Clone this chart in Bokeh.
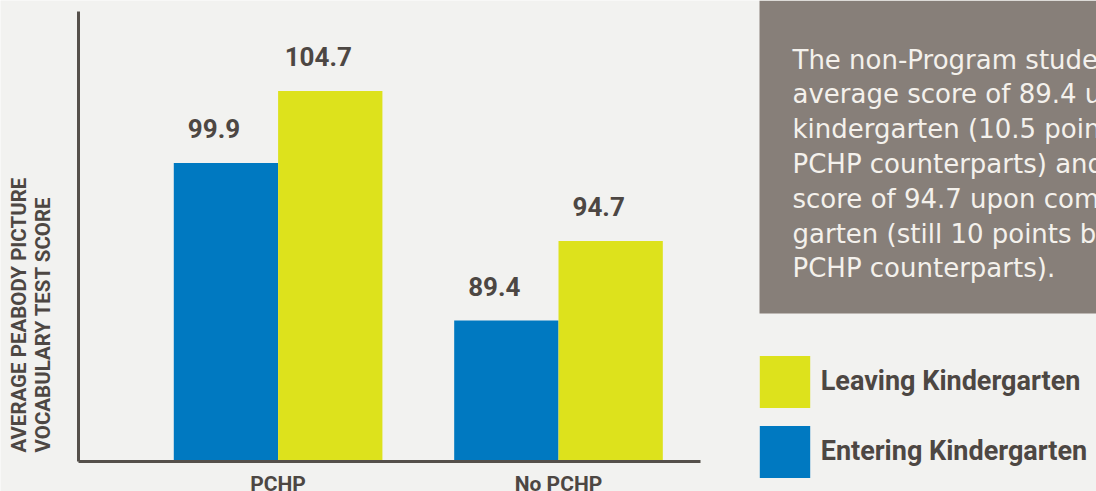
import math
from bokeh.plotting import figure
from bokeh.models import (Range1d, FixedTicker, Label, LabelSet, ColumnDataSource,
                          Legend, LegendItem, BoxAnnotation)
from bokeh.core.properties import value
from bokeh.embed import file_html
from bokeh.resources import INLINE

# ---------------- data ----------------
categories = ["PCHP", "No PCHP"]
entering = [99.9, 89.4]          # Entering Kindergarten (blue)
leaving = [104.7, 94.7]          # Leaving Kindergarten (yellow)
series_names = ["Entering Kindergarten", "Leaving Kindergarten"]
y_title_lines = ["AVERAGE PEABODY PICTURE", "VOCABULARY TEST  SCORE"]
note_lines = [
    "The non-Program students had an",
    "average score of 89.4 upon entering",
    "kindergarten (10.5 points below their",
    "PCHP counterparts) and an average",
    "score of 94.7 upon completing kinder-",
    "garten (still 10 points below their",
    "PCHP counterparts).",
]

# ---------------- style / layout ----------------
BG = "#f2f2f0"
BLUE = "#0079c1"
YELLOW = "#dde21c"
TXT = "#4d4743"
AXIS = "#55504b"
BOX = "#877f79"
BOX_TXT = "#f4f1ec"
BOLD_FONT = "Roboto"

W, H = 1096, 491
PX_X = 280.4        # pixels per category step
PX_Y = 15.0         # pixels per score point
CAT0_PX = 277.6     # pixel of the first category centre
BASE_PX = 461.0     # pixel of the baseline (score 80)
Y_BASE = 80
Y_TOP = 110

x_range = Range1d(1 - CAT0_PX / PX_X, 1 + (W - CAT0_PX) / PX_X)
y_range = Range1d(Y_BASE - (H - BASE_PX) / PX_Y, Y_BASE + BASE_PX / PX_Y)


def dx(px):
    return x_range.start + px / PX_X


def dy(py):
    return y_range.end - py / PX_Y


pos = [i + 1 for i in range(len(categories))]
bar_w = 0.372
half = bar_w / 2

p = figure(width=W, height=H, x_range=x_range, y_range=y_range,
           output_backend="svg", toolbar_location=None, min_border=0,
           background_fill_color=BG, border_fill_color=BG, outline_line_color=None)
p.xgrid.visible = False
p.ygrid.visible = False

xa = p.xaxis[0]
xa.fixed_location = Y_BASE
xa.bounds = (dx(78), dx(700))
xa.ticker = FixedTicker(ticks=pos)
xa.major_label_overrides = {x: c for x, c in zip(pos, categories)}
xa.major_label_text_font = BOLD_FONT
xa.major_label_text_font_style = "bold"
xa.major_label_text_font_size = "21px"
xa.major_label_text_color = TXT
xa.major_label_standoff = 4

ya = p.yaxis[0]
ya.fixed_location = dx(78)
ya.bounds = (Y_BASE, Y_TOP)
ya.ticker = FixedTicker(ticks=[])
ya.major_label_text_font_size = "0px"

for ax in (xa, ya):
    ax.axis_line_color = AXIS
    ax.axis_line_width = 3
    ax.major_tick_line_color = None
    ax.minor_tick_line_color = None

src = ColumnDataSource(dict(
    x_ent=[x - half for x in pos],
    x_leave=[x + half for x in pos],
    entering=entering,
    leaving=leaving,
    ent_lbl=[f"{v:.1f}" for v in entering],
    leave_lbl=[f"{v:.1f}" for v in leaving],
))
r_ent = p.vbar(x="x_ent", top="entering", bottom=Y_BASE, width=bar_w, source=src,
               fill_color=BLUE, line_color=None)
r_leave = p.vbar(x="x_leave", top="leaving", bottom=Y_BASE, width=bar_w, source=src,
                 fill_color=YELLOW, line_color=None)

lbl_kw = dict(text_font=value(BOLD_FONT), text_font_style="bold", text_font_size="26px",
              text_color=TXT, text_align="center", text_baseline="alphabetic",
              x_offset=-12, y_offset=25, source=src)
p.add_layout(LabelSet(x="x_ent", y="entering", text="ent_lbl", **lbl_kw))
p.add_layout(LabelSet(x="x_leave", y="leaving", text="leave_lbl", **lbl_kw))

# rotated two-line y-axis title
for i, line in enumerate(y_title_lines):
    p.add_layout(Label(x=dx(18 + 24.7 * i), y=dy(452), text=line, angle=math.pi / 2,
                       text_align="left", text_baseline="alphabetic",
                       text_font=BOLD_FONT, text_font_style="bold",
                       text_font_size="20.5px", text_color=TXT))

# ---------------- note box ----------------
p.add_layout(BoxAnnotation(left=dx(759), bottom=dy(313), fill_color=BOX, fill_alpha=1,
                           line_alpha=0, level="underlay"))
for i, line in enumerate(note_lines):
    p.add_layout(Label(x=dx(792), y=dy(59 + i * 34.8), text=line,
                       text_align="left", text_baseline="alphabetic",
                       text_font="DejaVu Sans", text_font_size="26px",
                       text_color=BOX_TXT))

# ---------------- legend ----------------
legend = Legend(items=[LegendItem(label=series_names[1], renderers=[r_leave]),
                       LegendItem(label=series_names[0], renderers=[r_ent])],
                location=(752.7, 7.5), glyph_width=63, glyph_height=65, spacing=5,
                padding=0, margin=0, label_standoff=5, border_line_color=None,
                background_fill_alpha=0, label_text_font=BOLD_FONT,
                label_text_font_style="bold", label_text_font_size="27px",
                label_text_color=TXT)
p.add_layout(legend)

open("out.html", "w").write(file_html(p, INLINE))
